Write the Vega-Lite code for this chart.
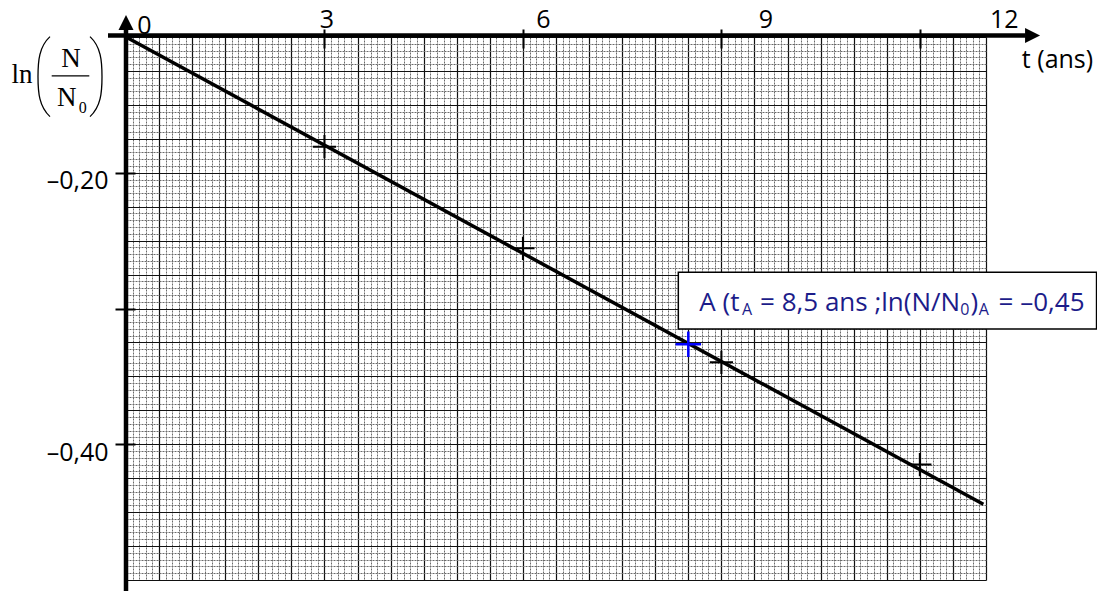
{
  "$schema": "https://vega.github.io/schema/vega-lite/v6.json",
  "width": 860,
  "height": 543,
  "autosize": {"type": "none"},
  "padding": {"left": 126, "top": 37, "right": 111, "bottom": 11},
  "background": "white",
  "config": {"view": {"stroke": null}, "font": "Open Sans"},
  "datasets": {
    "fit": [{"t": 0, "v": -0.1}, {"t": 12.96, "v": -0.4442}],
    "mesures": [
      {"t": 3, "v": -0.1808},
      {"t": 6, "v": -0.2557},
      {"t": 9, "v": -0.3396},
      {"t": 12, "v": -0.415}
    ],
    "pointA": [{"t": 8.5, "v": -0.3264}]
  },
  "data": {"name": "pointA"},
  "resolve": {"axis": {"x": "independent", "y": "independent"}},
  "layer": [
    {
      "data": {"name": "fit"},
      "mark": {"type": "line", "color": "black", "strokeWidth": 3.5},
      "encoding": {
        "x": {
          "field": "t", "type": "quantitative",
          "scale": {"domain": [0, 13], "nice": false, "zero": false},
          "axis": {
            "orient": "bottom", "title": null, "labels": false, "ticks": false, "domain": false,
            "grid": true, "tickCount": 130,
            "gridColor": {"condition": {"test": "abs(datum.value*2-round(datum.value*2))<0.001", "value": "#111111"}, "value": "#6a6a6a"},
            "gridDash": {"condition": {"test": "abs(datum.value*2-round(datum.value*2))<0.001", "value": []}, "value": [2, 1]},
            "gridWidth": {"condition": {"test": "abs(datum.value*2-round(datum.value*2))<0.001", "value": 1.2}, "value": 1},
            "gridOpacity": 1
          }
        },
        "y": {
          "field": "v", "type": "quantitative",
          "scale": {"domain": [-0.5, -0.1], "nice": false, "zero": false},
          "axis": {
            "orient": "right", "title": null, "labels": false, "ticks": false, "domain": false,
            "grid": true, "tickCount": 80,
            "gridColor": {"condition": {"test": "abs(datum.value*40-round(datum.value*40))<0.001", "value": "#111111"}, "value": "#6a6a6a"},
            "gridDash": {"condition": {"test": "abs(datum.value*40-round(datum.value*40))<0.001", "value": []}, "value": [2, 1]},
            "gridWidth": {"condition": {"test": "abs(datum.value*40-round(datum.value*40))<0.001", "value": 1.2}, "value": 1},
            "gridOpacity": 1
          }
        }
      }
    },
    {
      "data": {"name": "mesures"},
      "mark": {"type": "point", "shape": "M-1,0H1M0,-1V1", "filled": false, "stroke": "black", "strokeWidth": 2, "size": 540, "opacity": 1},
      "encoding": {
        "x": {
          "field": "t", "type": "quantitative",
          "axis": {
            "orient": "top", "title": null, "values": [0, 3, 6, 9, 12], "domain": false, "grid": false,
            "offset": -11, "tickSize": 19, "tickWidth": 2, "tickColor": "black",
            "tickOpacity": {"condition": {"test": "datum.value==0", "value": 0}, "value": 1},
            "labelFont": "Open Sans", "labelFontSize": 25, "labelColor": "black",
            "labelBaseline": "alphabetic", "labelFlush": false, "labelOverlap": false, "labelBound": false,
            "labelPadding": {"condition": {"test": "datum.value==0", "value": -4}, "value": 2},
            "labelOffset": {"condition": [
              {"test": "datum.value==0", "value": 18},
              {"test": "datum.value==3", "value": 2},
              {"test": "datum.value==6", "value": 20},
              {"test": "datum.value==9", "value": 44},
              {"test": "datum.value==12", "value": 84}
            ], "value": 0}
          }
        },
        "y": {
          "field": "v", "type": "quantitative",
          "axis": {
            "orient": "left", "title": null, "values": [-0.2, -0.3, -0.4], "domain": false, "grid": false,
            "offset": -9, "tickSize": 20, "tickWidth": 2, "tickColor": "black",
            "labelExpr": "abs(datum.value+0.3)<0.001 ? '' : '–' + replace(format(abs(datum.value), '.2f'), '.', ',')",
            "labelFont": "Open Sans", "labelFontSize": 25, "labelColor": "black",
            "labelBaseline": "middle", "labelOffset": 8, "labelPadding": 7,
            "labelFlush": false, "labelOverlap": false, "labelBound": false
          }
        }
      }
    },
    {
      "data": {"name": "pointA"},
      "mark": {"type": "point", "shape": "M-1,0H1M0,-1V1", "filled": false, "stroke": "#0000ff", "strokeWidth": 2.5, "size": 650, "opacity": 1},
      "encoding": {
        "x": {"field": "t", "type": "quantitative", "axis": null},
        "y": {"field": "v", "type": "quantitative", "axis": null}
      }
    },
    {
      "mark": {"type": "rect", "fill": "white", "stroke": "black", "strokeWidth": 1.5},
      "encoding": {
        "x": {"datum": 8.349, "type": "quantitative", "axis": null},
        "x2": {"datum": 14.671},
        "y": {"datum": -0.2733, "type": "quantitative", "axis": null},
        "y2": {"datum": -0.3151}
      }
    },
    {
      "mark": {"type": "text", "font": "Open Sans", "fontSize": 26, "color": "#1c1c8a", "align": "left", "baseline": "alphabetic"},
      "encoding": {
        "x": {"datum": 8.667, "type": "quantitative", "axis": null},
        "y": {"datum": -0.3016, "type": "quantitative", "axis": null},
        "text": {"value": "A (t"}
      }
    },
    {
      "mark": {"type": "text", "font": "Open Sans", "fontSize": 16, "color": "#1c1c8a", "align": "left", "baseline": "alphabetic", "dy": 4},
      "encoding": {
        "x": {"datum": 9.312, "type": "quantitative", "axis": null},
        "y": {"datum": -0.3016, "type": "quantitative", "axis": null},
        "text": {"value": "A"}
      }
    },
    {
      "mark": {"type": "text", "font": "Open Sans", "fontSize": 26, "color": "#1c1c8a", "align": "left", "baseline": "alphabetic"},
      "encoding": {
        "x": {"datum": 9.585, "type": "quantitative", "axis": null},
        "y": {"datum": -0.3016, "type": "quantitative", "axis": null},
        "text": {"value": "= 8,5 ans ;ln(N/N"}
      }
    },
    {
      "mark": {"type": "text", "font": "Open Sans", "fontSize": 16, "color": "#1c1c8a", "align": "left", "baseline": "alphabetic", "dy": 4},
      "encoding": {
        "x": {"datum": 12.61, "type": "quantitative", "axis": null},
        "y": {"datum": -0.3016, "type": "quantitative", "axis": null},
        "text": {"value": "0"}
      }
    },
    {
      "mark": {"type": "text", "font": "Open Sans", "fontSize": 26, "color": "#1c1c8a", "align": "left", "baseline": "alphabetic"},
      "encoding": {
        "x": {"datum": 12.765, "type": "quantitative", "axis": null},
        "y": {"datum": -0.3016, "type": "quantitative", "axis": null},
        "text": {"value": ")"}
      }
    },
    {
      "mark": {"type": "text", "font": "Open Sans", "fontSize": 16, "color": "#1c1c8a", "align": "left", "baseline": "alphabetic", "dy": 4},
      "encoding": {
        "x": {"datum": 12.89, "type": "quantitative", "axis": null},
        "y": {"datum": -0.3016, "type": "quantitative", "axis": null},
        "text": {"value": "A"}
      }
    },
    {
      "mark": {"type": "text", "font": "Open Sans", "fontSize": 26, "color": "#1c1c8a", "align": "left", "baseline": "alphabetic"},
      "encoding": {
        "x": {"datum": 13.19, "type": "quantitative", "axis": null},
        "y": {"datum": -0.3016, "type": "quantitative", "axis": null},
        "text": {"value": "= –0,45"}
      }
    },
    {
      "mark": {"type": "rule", "color": "black", "strokeWidth": 4.5},
      "encoding": {
        "x": {"datum": -0.272, "type": "quantitative", "axis": null},
        "x2": {"datum": 13.6},
        "y": {"datum": -0.0989, "type": "quantitative", "axis": null}
      }
    },
    {
      "mark": {"type": "rule", "color": "black", "strokeWidth": 4.5},
      "encoding": {
        "x": {"datum": 0, "type": "quantitative", "axis": null},
        "y": {"datum": -0.0948, "type": "quantitative", "axis": null},
        "y2": {"datum": -0.5081}
      }
    },
    {
      "mark": {"type": "point", "shape": "M-1,-1L1,0L-1,1Z", "filled": true, "color": "black", "size": 225, "opacity": 1},
      "encoding": {
        "x": {"datum": 13.704, "type": "quantitative", "axis": null},
        "y": {"datum": -0.0989, "type": "quantitative", "axis": null}
      }
    },
    {
      "mark": {"type": "point", "shape": "M-1,1L0,-1L1,1Z", "filled": true, "color": "black", "size": 225, "opacity": 1},
      "encoding": {
        "x": {"datum": 0, "type": "quantitative", "axis": null},
        "y": {"datum": -0.0893, "type": "quantitative", "axis": null}
      }
    },
    {
      "mark": {"type": "text", "font": "Open Sans", "fontSize": 25, "color": "black", "align": "center", "baseline": "alphabetic"},
      "encoding": {
        "x": {"datum": 14.081, "type": "quantitative", "axis": null},
        "y": {"datum": -0.1231, "type": "quantitative", "axis": null},
        "text": {"value": "t (ans)"}
      }
    },
    {
      "mark": {"type": "text", "font": "Liberation Serif", "fontSize": 27, "color": "black", "align": "center", "baseline": "alphabetic"},
      "encoding": {
        "x": {"datum": -1.572, "type": "quantitative", "axis": null},
        "y": {"datum": -0.1339, "type": "quantitative", "axis": null},
        "text": {"value": "ln"}
      }
    },
    {
      "mark": {"type": "point", "shape": "M0.15,-1C-0.12,-0.75,-0.15,-0.4,-0.15,0C-0.15,0.4,-0.12,0.75,0.15,1", "filled": false, "stroke": "black", "strokeWidth": 1.3, "size": 6400, "opacity": 1},
      "encoding": {
        "x": {"datum": -1.2396, "type": "quantitative", "axis": null},
        "y": {"datum": -0.1292, "type": "quantitative", "axis": null}
      }
    },
    {
      "mark": {"type": "point", "shape": "M-0.15,-1C0.12,-0.75,0.15,-0.4,0.15,0C0.15,0.4,0.12,0.75,-0.15,1", "filled": false, "stroke": "black", "strokeWidth": 1.3, "size": 6400, "opacity": 1},
      "encoding": {
        "x": {"datum": -0.4535, "type": "quantitative", "axis": null},
        "y": {"datum": -0.1292, "type": "quantitative", "axis": null}
      }
    },
    {
      "mark": {"type": "text", "font": "Liberation Serif", "fontSize": 27, "color": "black", "align": "center", "baseline": "alphabetic"},
      "encoding": {
        "x": {"datum": -0.8314, "type": "quantitative", "axis": null},
        "y": {"datum": -0.1219, "type": "quantitative", "axis": null},
        "text": {"value": "N"}
      }
    },
    {
      "mark": {"type": "rule", "color": "black", "strokeWidth": 1.3},
      "encoding": {
        "x": {"datum": -1.1232, "type": "quantitative", "axis": null},
        "x2": {"datum": -0.5548},
        "y": {"datum": -0.1287, "type": "quantitative", "axis": null}
      }
    },
    {
      "mark": {"type": "text", "font": "Liberation Serif", "fontSize": 27, "color": "black", "align": "center", "baseline": "alphabetic"},
      "encoding": {
        "x": {"datum": -0.8965, "type": "quantitative", "axis": null},
        "y": {"datum": -0.1508, "type": "quantitative", "axis": null},
        "text": {"value": "N"}
      }
    },
    {
      "mark": {"type": "text", "font": "Liberation Serif", "fontSize": 16, "color": "black", "align": "center", "baseline": "alphabetic"},
      "encoding": {
        "x": {"datum": -0.655, "type": "quantitative", "axis": null},
        "y": {"datum": -0.1562, "type": "quantitative", "axis": null},
        "text": {"value": "0"}
      }
    }
  ]
}
